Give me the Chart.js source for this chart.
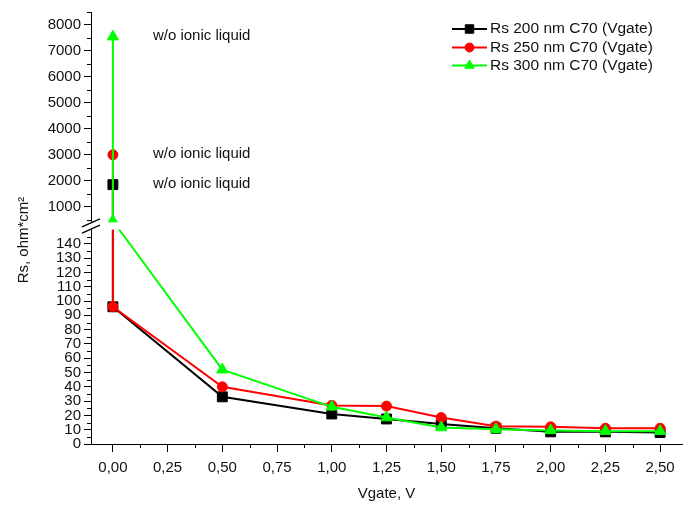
<!DOCTYPE html>
<html>
<head>
<meta charset="utf-8">
<script src="https://cdn.jsdelivr.net/npm/chart.js@4.4.1/dist/chart.umd.min.js"></script>
<style>
html,body{margin:0;padding:0;background:#fff;}
#wrap{width:692px;height:508px;}
</style>
</head>
<body>
<div id="wrap"><canvas id="c" width="692" height="508"></canvas></div>
<script>
// ---- data ----
const vgate = [0, 0.5, 1.0, 1.25, 1.5, 1.75, 2.0, 2.25, 2.5];
const rs200 = [96, 33, 21, 17.5, 14, 11, 8.5, 8.5, 8];
const rs250 = [96, 40, 27, 26.5, 18.5, 12.5, 12, 11, 11];
const rs300 = [450, 52, 26, 18.5, 11.5, 10.3, 9.5, 9, 9];
// w/o ionic liquid values (at Vgate = 0) for 200, 250, 300 nm
const woIL = [1850, 3000, 7550];
const seriesNames = ['Rs 200 nm C70 (Vgate)', 'Rs 250 nm C70 (Vgate)', 'Rs 300 nm C70 (Vgate)'];
const noteText = 'w/o ionic liquid';

// ---- ticks ----
const xMajorTicks = [0, 0.25, 0.5, 0.75, 1.0, 1.25, 1.5, 1.75, 2.0, 2.25, 2.5];
const yLowMajor = [0, 10, 20, 30, 40, 50, 60, 70, 80, 90, 100, 110, 120, 130, 140];
const yHighMajor = [1000, 2000, 3000, 4000, 5000, 6000, 7000, 8000];
const yLowMinor = [5, 15, 25, 35, 45, 55, 65, 75, 85, 95, 105, 115, 125, 135, 145];
const yHighMinor = [500, 1500, 2500, 3500, 4500, 5500, 6500, 7500, 8500];
const xMinorTicks = [0.125, 0.375, 0.625, 0.875, 1.125, 1.375, 1.625, 1.875, 2.125, 2.375];

// ---- axis break ----
const brk = { lowMax: 150, highMin: 400, lowFrac: 0.4963, gapFrac: 0.0169 };

const FONT = 'Liberation Sans, Arial, sans-serif';
const TXT = '#111';

class BrokenLinearScale extends Chart.LinearScale {
  static id = 'brokenLinear';
  static defaults = Chart.LinearScale.defaults;
  determineDataLimits() {
    this.min = this.options.min;
    this.max = this.options.max;
  }
  buildTicks() {
    return yLowMajor.concat(yHighMajor).map(v => ({ value: v }));
  }
  _dec(v) {
    const hiFrac = 1 - brk.lowFrac - brk.gapFrac;
    if (v <= brk.lowMax) return (v - this.min) / (brk.lowMax - this.min) * brk.lowFrac;
    if (v >= brk.highMin) return brk.lowFrac + brk.gapFrac + (v - brk.highMin) / (this.max - brk.highMin) * hiFrac;
    return brk.lowFrac + (v - brk.lowMax) / (brk.highMin - brk.lowMax) * brk.gapFrac;
  }
  getPixelForValue(value) {
    if (value === null || value === undefined || isNaN(value)) return NaN;
    return this.getPixelForDecimal(this._dec(value));
  }
  getValueForPixel(pixel) {
    const d = this.getDecimalForPixel(pixel);
    const hiFrac = 1 - brk.lowFrac - brk.gapFrac;
    if (d <= brk.lowFrac) return this.min + d / brk.lowFrac * (brk.lowMax - this.min);
    if (d >= brk.lowFrac + brk.gapFrac) return brk.highMin + (d - brk.lowFrac - brk.gapFrac) / hiFrac * (this.max - brk.highMin);
    return brk.lowMax + (d - brk.lowFrac) / brk.gapFrac * (brk.highMin - brk.lowMax);
  }
}
Chart.register(BrokenLinearScale);

function buildData(series, idx) {
  return [{ x: vgate[0], y: woIL[idx] }].concat(vgate.map((x, j) => ({ x: x, y: series[j] })));
}

const colors = ['#000000', '#ff0000', '#00ff00'];
const styles = ['rect', 'circle', 'triangle'];
const radii = [7, 5, 6.5];
const legendRadii = [6, 4.5, 5.5];

const datasets = [rs200, rs250, rs300].map((s, i) => ({
  label: seriesNames[i],
  data: buildData(s, i),
  borderColor: colors[i],
  backgroundColor: colors[i],
  borderWidth: 2,
  pointStyle: styles[i],
  pointRadius: radii[i],
  pointHoverRadius: radii[i],
  pointBorderWidth: 1,
  pointBorderColor: colors[i],
  pointBackgroundColor: colors[i],
  tension: 0,
  order: 3 - i,
  clip: false
}));

const extrasPlugin = {
  id: 'extras',
  afterDraw(chart) {
    const ctx = chart.ctx;
    const area = chart.chartArea;
    const xs = chart.scales.x, ys = chart.scales.y;
    ctx.save();
    // minor ticks
    ctx.strokeStyle = '#000';
    ctx.lineWidth = 1;
    ctx.beginPath();
    yLowMinor.concat(yHighMinor).forEach(v => {
      const p = Math.round(ys.getPixelForValue(v)) + 0.5;
      ctx.moveTo(area.left - 4, p);
      ctx.lineTo(area.left, p);
    });
    xMinorTicks.forEach(v => {
      const p = Math.round(xs.getPixelForValue(v)) + 0.5;
      ctx.moveTo(p, area.bottom);
      ctx.lineTo(p, area.bottom + 4);
    });
    ctx.stroke();

    // gap band
    const gTop = ys.getPixelForValue(brk.highMin);
    const gBot = ys.getPixelForValue(brk.lowMax);
    ctx.fillStyle = '#fff';
    ctx.fillRect(area.left - 2, gTop, area.right - area.left + 2, gBot - gTop);
    // break marks
    ctx.strokeStyle = '#000';
    ctx.lineWidth = 1.3;
    ctx.beginPath();
    [gTop + 0.5, gBot - 0.5].forEach(yc => {
      ctx.moveTo(area.left - 9, yc + 4);
      ctx.lineTo(area.left + 9, yc - 4);
    });
    ctx.stroke();

    // annotations
    ctx.fillStyle = TXT;
    ctx.font = '15px ' + FONT;
    ctx.textAlign = 'left';
    ctx.textBaseline = 'middle';
    woIL.forEach(v => {
      ctx.fillText(noteText, xs.getPixelForValue(vgate[0]) + 40, ys.getPixelForValue(v) - 1);
    });

    // y title
    ctx.save();
    ctx.translate(24, 240);
    ctx.rotate(-Math.PI / 2);
    ctx.textAlign = 'center';
    ctx.textBaseline = 'middle';
    ctx.fillText('Rs, ohm*cm\u00B2', 0, 0);
    ctx.restore();

    // legend
    ctx.font = '15.5px ' + FONT;
    const lx0 = 452, lx1 = 487, rowY = [29, 47.5, 65.5];
    seriesNames.forEach((name, i) => {
      const y = rowY[i];
      ctx.strokeStyle = colors[i];
      ctx.lineWidth = 2;
      ctx.beginPath();
      ctx.moveTo(lx0, y);
      ctx.lineTo(lx1, y);
      ctx.stroke();
      ctx.fillStyle = colors[i];
      ctx.lineWidth = 1;
      Chart.helpers.drawPoint(ctx, { pointStyle: styles[i], radius: legendRadii[i], rotation: 0, borderWidth: 1 }, (lx0 + lx1) / 2, y);
      ctx.fillStyle = TXT;
      ctx.textAlign = 'left';
      ctx.textBaseline = 'middle';
      ctx.fillText(name, 490, y);
    });
    ctx.restore();
  }
};

new Chart(document.getElementById('c'), {
  type: 'line',
  data: { datasets: datasets },
  options: {
    responsive: false,
    animation: false,
    devicePixelRatio: 1,
    layout: { padding: { top: 12, right: 10, left: 0, bottom: 0 } },
    plugins: { legend: { display: false }, tooltip: { enabled: false } },
    scales: {
      x: {
        type: 'linear',
        min: -0.1,
        max: 2.6,
        afterBuildTicks: s => { s.ticks = xMajorTicks.map(v => ({ value: v })); },
        afterFit: s => { s.height = 64; },
        grid: { drawOnChartArea: false, drawTicks: true, tickLength: 8, color: '#000', lineWidth: 1 },
        border: { display: true, color: '#000', width: 1 },
        ticks: {
          callback: v => Number(v).toFixed(2).replace('.', ','),
          font: { family: FONT, size: 15 },
          color: TXT,
          padding: 7,
          maxRotation: 0,
          autoSkip: false
        },
        title: { display: true, text: 'Vgate, V', font: { family: FONT, size: 15 }, color: TXT, padding: { top: 5, bottom: 5 } }
      },
      y: {
        type: 'brokenLinear',
        min: 0,
        max: 8500,
        afterFit: s => { s.width = 91; },
        grid: { drawOnChartArea: false, drawTicks: true, tickLength: 7, color: '#000', lineWidth: 1 },
        border: { display: true, color: '#000', width: 1 },
        ticks: {
          callback: v => String(v),
          font: { family: FONT, size: 15 },
          color: TXT,
          padding: 3,
          autoSkip: false
        },
        title: { display: false }
      }
    }
  },
  plugins: [extrasPlugin]
});
</script>
</body>
</html>
